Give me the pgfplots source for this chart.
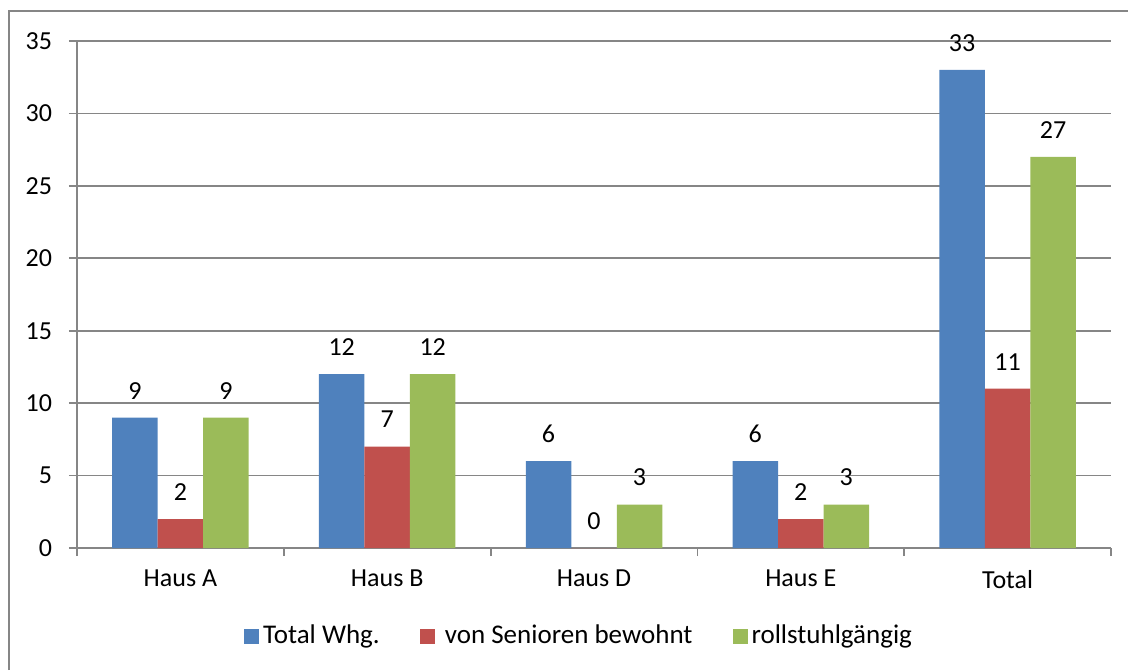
\documentclass[border=0pt]{standalone}
\usepackage{fontspec}
\setmainfont{Carlito}
\usepackage{pgfplots}
\pgfplotsset{compat=1.18}
\definecolor{cblue}{HTML}{4F81BD}
\definecolor{cred}{HTML}{C0504D}
\definecolor{cgreen}{HTML}{9BBB59}
\definecolor{cgray}{HTML}{868686}

\begin{document}
\begin{tikzpicture}
\useasboundingbox (0,0) rectangle (564pt,335pt);
% outer chart frame (right and bottom edges are cut off in the original)
\draw[cgray, line width=1pt] (4.5pt,0) -- (4.5pt,329.5pt) -- (564pt,329.5pt);
\begin{axis}[
  at={(38.5pt,61pt)}, anchor=south west, scale only axis,
  width=517pt, height=253.5pt,
  ybar=0pt, bar width=22.75pt,
  xmin=-0.5, xmax=4.5, ymin=0, ymax=35,
  ytick={0,5,...,35},
  xtick={-0.5,0.5,...,4.5},
  x tick label as interval,
  xticklabels={Haus A,Haus B,Haus D,Haus E,Total},
  axis x line*=bottom, axis y line*=left,
  axis line style={draw=cgray, line width=0.9pt, -},
  tick style={draw=cgray, line width=0.9pt},
  tick align=outside, major tick length=4pt,
  ymajorgrids, grid style={cgray, line width=0.9pt},
  ticklabel style={font=\fontsize{13}{15}\selectfont, text=black},
  yticklabel style={xshift=-5pt},
  xticklabel style={yshift=-3.5pt},
  /pgf/number format/assume math mode=true,
  nodes near coords,
  every node near coord/.append style={font=\fontsize{13}{15}\selectfont, text=black, anchor=center, yshift=13.5pt},
  clip=false,
  legend columns=3,
  legend style={at={(0.4865,-0.1736)}, anchor=center, draw=none, fill=none,
    font=\fontsize{13.5}{16}\selectfont,
    /tikz/every even column/.append style={column sep=18pt}},
  legend image code/.code={\draw[#1, draw=none] (-1.5pt,-3.75pt) rectangle (6pt,3.75pt);},
]
\addplot[fill=cblue, draw=none] coordinates {(0,9) (1,12) (2,6) (3,6) (4,33)};
\addplot[fill=cred, draw=none] coordinates {(0,2) (1,7) (2,0) (3,2) (4,11)};
\addplot[fill=cgreen, draw=none] coordinates {(0,9) (1,12) (2,3) (3,3) (4,27)};
\legend{Total Whg., \ von Senioren bewohnt, rollstuhlgängig}
\end{axis}
\end{tikzpicture}
\end{document}
